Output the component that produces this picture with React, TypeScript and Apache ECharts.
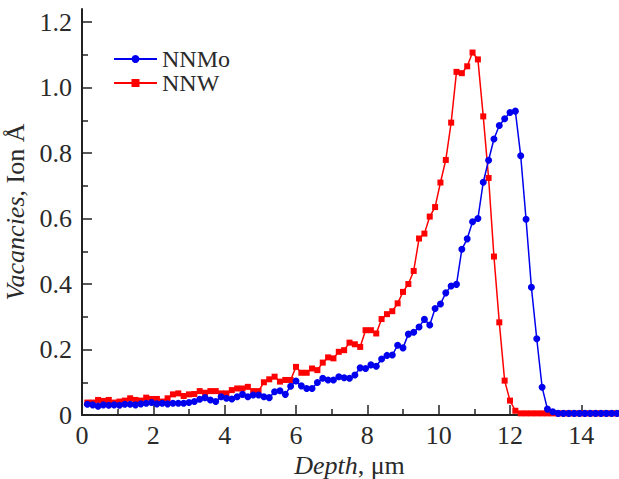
import React, { useEffect, useRef } from "react";
import * as echarts from "echarts";

// Depth bins (µm)
const depths = [
  0.15, 0.3, 0.45, 0.6, 0.75, 0.9, 1.05, 1.2, 1.35, 1.5,
  1.65, 1.8, 1.95, 2.1, 2.25, 2.4, 2.55, 2.7, 2.85, 3.0,
  3.15, 3.3, 3.45, 3.6, 3.75, 3.9, 4.05, 4.2, 4.35, 4.5,
  4.65, 4.8, 4.95, 5.1, 5.25, 5.4, 5.55, 5.7, 5.85, 6.0,
  6.15, 6.3, 6.45, 6.6, 6.75, 6.9, 7.05, 7.2, 7.35, 7.5,
  7.65, 7.8, 7.95, 8.1, 8.25, 8.4, 8.55, 8.7, 8.85, 9.0,
  9.15, 9.3, 9.45, 9.6, 9.75, 9.9, 10.05, 10.2, 10.35, 10.5,
  10.65, 10.8, 10.95, 11.1, 11.25, 11.4, 11.55, 11.7, 11.85, 12.0,
  12.15, 12.3, 12.45, 12.6, 12.75, 12.9, 13.05, 13.2, 13.35, 13.5,
  13.65, 13.8, 13.95, 14.1, 14.25, 14.4, 14.55, 14.7, 14.85, 15.0,
];

const nnmo = [
  0.033, 0.031, 0.027, 0.031, 0.030, 0.031, 0.030, 0.033, 0.033, 0.031,
  0.034, 0.036, 0.038, 0.034, 0.036, 0.034, 0.036, 0.036, 0.036, 0.038,
  0.041, 0.048, 0.053, 0.046, 0.041, 0.056, 0.051, 0.049, 0.056, 0.063,
  0.056, 0.061, 0.061, 0.056, 0.053, 0.071, 0.074, 0.063, 0.088, 0.104,
  0.089, 0.081, 0.081, 0.099, 0.112, 0.107, 0.107, 0.117, 0.114, 0.112,
  0.122, 0.144, 0.142, 0.153, 0.149, 0.171, 0.182, 0.183, 0.213, 0.205,
  0.247, 0.253, 0.269, 0.292, 0.275, 0.325, 0.339, 0.373, 0.394, 0.399,
  0.506, 0.538, 0.590, 0.600, 0.711, 0.778, 0.843, 0.884, 0.905, 0.924,
  0.928, 0.792, 0.598, 0.390, 0.233, 0.085, 0.018, 0.010, 0.005, 0.005,
  0.005, 0.005, 0.005, 0.005, 0.005, 0.005, 0.005, 0.005, 0.005, 0.005,
];

const nnw = [
  0.038, 0.038, 0.046, 0.043, 0.046, 0.038, 0.041, 0.044, 0.051, 0.046,
  0.044, 0.053, 0.049, 0.049, 0.041, 0.051, 0.063, 0.066, 0.058, 0.063,
  0.064, 0.073, 0.068, 0.073, 0.073, 0.066, 0.066, 0.076, 0.081, 0.081,
  0.086, 0.073, 0.073, 0.100, 0.109, 0.117, 0.102, 0.107, 0.107, 0.147,
  0.129, 0.129, 0.142, 0.137, 0.160, 0.176, 0.173, 0.193, 0.198, 0.221,
  0.216, 0.208, 0.259, 0.259, 0.249, 0.293, 0.308, 0.317, 0.341, 0.376,
  0.400, 0.440, 0.539, 0.554, 0.606, 0.635, 0.710, 0.779, 0.893, 1.048,
  1.044, 1.065, 1.107, 1.086, 0.912, 0.724, 0.484, 0.283, 0.105, 0.044,
  0.013, 0.005, 0.005, 0.005, 0.005, 0.005, 0.005, 0.005, 0.005, 0.005,
  0.005, 0.005, 0.005, 0.005, 0.005, 0.005, 0.005, 0.005, 0.005, 0.005,
];

const xMajorTicks = [0, 2, 4, 6, 8, 10, 12, 14];
const xMinorTicks = [1, 3, 5, 7, 9, 11, 13];
const yMajorTicks = [0, 0.2, 0.4, 0.6, 0.8, 1.0, 1.2];
const yMinorTicks = [0.1, 0.3, 0.5, 0.7, 0.9, 1.1];

const FONT = "Liberation Serif";
const AXIS_COLOR = "#222";
const TEXT_COLOR = "#2a2a2a";

export default function App() {
  const ref = useRef<HTMLDivElement>(null);

  useEffect(() => {
    if (!ref.current) return;
    const chart = echarts.init(ref.current, null, { renderer: "svg" });

    const isMajor = (v: number, list: number[]) =>
      list.some((m) => Math.abs(m - v) < 1e-6);
    const fmtX = (v: number) => (isMajor(v, xMajorTicks) ? String(v) : "");
    const fmtY = (v: number) =>
      isMajor(v, yMajorTicks) ? (Math.abs(v) < 1e-9 ? "0" : v.toFixed(1)) : "";

    const baseX = {
      type: "value",
      min: 0,
      max: 15,
      interval: 1,
      splitLine: { show: false },
    };
    const baseY = {
      type: "value",
      min: 0,
      max: 1.24,
      interval: 0.1,
      splitLine: { show: false },
    };

    const labelStyle = {
      fontFamily: FONT,
      fontSize: 26,
      color: TEXT_COLOR,
    };

    chart.setOption({
      animation: false,
      backgroundColor: "#fff",
      textStyle: { fontFamily: FONT },
      grid: {
        left: 82,
        right: 2,
        top: 9,
        bottom: 64,
        containLabel: false,
        outerBoundsMode: "none",
      },
      legend: {
        orient: "vertical",
        left: 108,
        top: 42,
        itemWidth: 43,
        itemHeight: 10,
        itemGap: 0,
        textStyle: {
          fontFamily: FONT,
          fontSize: 24,
          color: TEXT_COLOR,
          lineHeight: 24,
        },
        data: ["NNMo", "NNW"],
      },
      xAxis: [
        {
          ...baseX,
          name: "{i|Depth}, μm",
          nameLocation: "middle",
          nameGap: 32,
          nameTextStyle: {
            ...labelStyle,
            rich: {
              i: { ...labelStyle, fontStyle: "italic" },
            },
          },
          axisLine: { show: true, lineStyle: { color: AXIS_COLOR, width: 2 } },
          axisTick: {
            show: true,
            inside: true,
            length: 10,
            lineStyle: { color: AXIS_COLOR, width: 1.5 },
            customValues: xMajorTicks,
          },
          axisLabel: {
            show: true,
            ...labelStyle,
            margin: 7,
            showMaxLabel: false,
            formatter: fmtX,
          },
        },
        {
          ...baseX,
          position: "bottom",
          axisLine: { show: false },
          axisTick: {
            show: true,
            inside: true,
            length: 6,
            lineStyle: { color: AXIS_COLOR, width: 1.5 },
            customValues: xMinorTicks,
          },
          axisLabel: { show: false },
        },
      ],
      yAxis: [
        {
          ...baseY,
          name: "{i|Vacancies}, Ion Å",
          nameLocation: "middle",
          nameGap: 51,
          nameTextStyle: {
            ...labelStyle,
            rich: {
              i: { ...labelStyle, fontStyle: "italic" },
            },
          },
          axisLine: { show: true, lineStyle: { color: AXIS_COLOR, width: 2 } },
          axisTick: {
            show: true,
            inside: true,
            length: 10,
            lineStyle: { color: AXIS_COLOR, width: 1.5 },
            customValues: yMajorTicks,
          },
          axisLabel: {
            show: true,
            ...labelStyle,
            margin: 10,
            showMaxLabel: false,
            formatter: fmtY,
          },
        },
        {
          ...baseY,
          position: "left",
          axisLine: { show: false },
          axisTick: {
            show: true,
            inside: true,
            length: 6,
            lineStyle: { color: AXIS_COLOR, width: 1.5 },
            customValues: yMinorTicks,
          },
          axisLabel: { show: false },
        },
      ],
      series: [
        {
          name: "NNMo",
          type: "line",
          data: depths.map((d, i) => [d, nnmo[i]]),
          symbol: "circle",
          symbolSize: 7,
          showAllSymbol: true,
          lineStyle: { color: "#0000ee", width: 1.5 },
          itemStyle: { color: "#0000ee" },
          z: 3,
        },
        {
          name: "NNW",
          type: "line",
          data: depths.map((d, i) => [d, nnw[i]]),
          symbol: "rect",
          symbolSize: 6,
          showAllSymbol: true,
          lineStyle: { color: "#ff0000", width: 1.5 },
          itemStyle: { color: "#ff0000" },
          z: 2,
        },
      ],
    });

    return () => chart.dispose();
  }, []);

  return (
    <div
      ref={ref}
      style={{ position: "fixed", left: 0, top: 0, width: 619, height: 479, background: "#fff" }}
    />
  );
}
